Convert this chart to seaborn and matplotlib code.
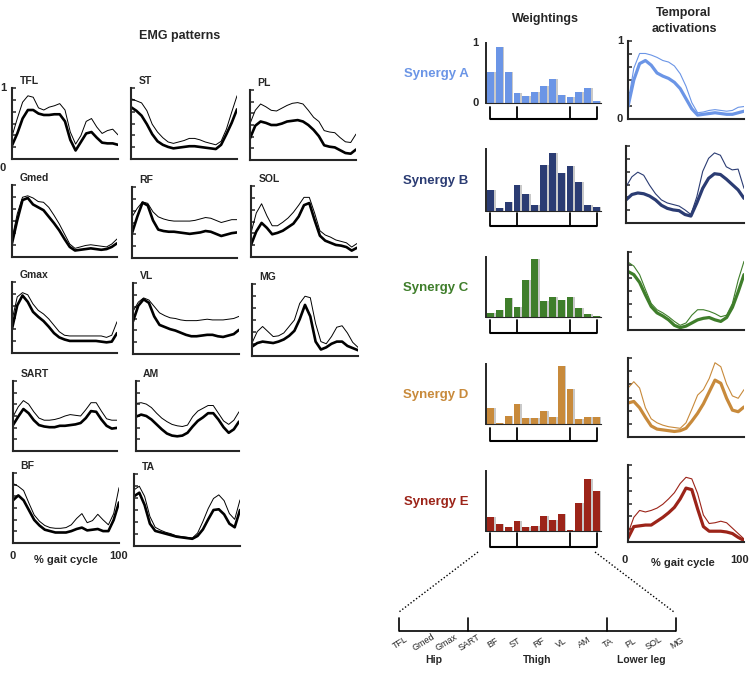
import numpy as np
import matplotlib
matplotlib.use("Agg")
import matplotlib.pyplot as plt
import matplotlib.transforms as mtransforms
from matplotlib.lines import Line2D
import seaborn as sns

sns.set_style("ticks")
plt.rcParams['font.family'] = ['Liberation Sans', 'DejaVu Sans']

# ---------------- data ----------------
pct = [0, 5, 10, 15, 20, 25, 30, 35, 40, 45, 50, 55, 60, 65, 70, 75, 80, 85, 90, 95, 100]
muscles = ["TFL", "Gmed", "Gmax", "SART", "BF", "ST", "RF", "VL", "AM", "TA", "PL", "SOL", "MG"]
groups = ["Hip", "Thigh", "Lower leg"]
group_starts = [0, 3, 9]          # index of first muscle in each group

TFL_mean = [0.19,0.36,0.57,0.69,0.69,0.64,0.62,0.62,0.63,0.63,0.53,0.27,0.12,0.24,0.36,0.38,0.30,0.23,0.22,0.22,0.20]
TFL_upper = [0.32,0.57,0.80,0.89,0.87,0.72,0.69,0.73,0.75,0.78,0.69,0.38,0.21,0.33,0.53,0.57,0.45,0.36,0.40,0.42,0.34]
ST_mean = [0.73,0.68,0.61,0.49,0.35,0.25,0.20,0.17,0.15,0.16,0.17,0.18,0.18,0.17,0.16,0.15,0.14,0.20,0.35,0.51,0.70]
ST_upper = [0.85,0.82,0.79,0.68,0.49,0.38,0.30,0.24,0.22,0.24,0.26,0.29,0.29,0.27,0.24,0.22,0.20,0.25,0.42,0.66,0.89]
PL_mean = [0.31,0.49,0.55,0.53,0.50,0.50,0.52,0.55,0.56,0.57,0.55,0.50,0.43,0.34,0.21,0.19,0.18,0.14,0.10,0.09,0.15]
PL_upper = [0.52,0.71,0.80,0.76,0.71,0.70,0.74,0.78,0.81,0.82,0.80,0.71,0.61,0.55,0.42,0.40,0.39,0.32,0.26,0.25,0.37]
Gmed_mean = [0.19,0.51,0.79,0.82,0.73,0.69,0.65,0.56,0.47,0.37,0.25,0.14,0.09,0.10,0.11,0.12,0.11,0.10,0.11,0.14,0.19]
Gmed_upper = [0.25,0.60,0.83,0.85,0.82,0.77,0.76,0.69,0.58,0.46,0.32,0.18,0.12,0.14,0.16,0.17,0.16,0.15,0.14,0.18,0.25]
RF_mean = [0.35,0.58,0.78,0.74,0.53,0.40,0.38,0.37,0.37,0.36,0.35,0.34,0.35,0.36,0.38,0.37,0.34,0.31,0.33,0.35,0.36]
RF_upper = [0.58,0.70,0.79,0.77,0.65,0.58,0.55,0.53,0.52,0.52,0.52,0.52,0.53,0.55,0.57,0.56,0.53,0.50,0.52,0.54,0.54]
SOL_mean = [0.17,0.36,0.48,0.41,0.32,0.34,0.37,0.42,0.47,0.57,0.73,0.76,0.52,0.30,0.23,0.20,0.17,0.16,0.14,0.09,0.13]
SOL_upper = [0.34,0.62,0.75,0.58,0.44,0.44,0.49,0.55,0.63,0.73,0.84,0.84,0.62,0.37,0.31,0.28,0.24,0.22,0.20,0.14,0.19]
Gmax_mean = [0.34,0.67,0.81,0.72,0.58,0.51,0.45,0.37,0.28,0.22,0.19,0.17,0.17,0.17,0.17,0.17,0.17,0.16,0.15,0.16,0.28]
Gmax_upper = [0.46,0.79,0.85,0.82,0.69,0.60,0.55,0.48,0.39,0.30,0.25,0.24,0.24,0.24,0.24,0.24,0.24,0.24,0.22,0.25,0.44]
VL_mean = [0.46,0.68,0.77,0.72,0.53,0.41,0.38,0.35,0.33,0.30,0.27,0.25,0.25,0.26,0.27,0.27,0.25,0.24,0.26,0.28,0.34]
VL_upper = [0.60,0.73,0.79,0.76,0.67,0.58,0.54,0.51,0.50,0.48,0.47,0.47,0.47,0.48,0.49,0.48,0.48,0.48,0.49,0.50,0.53]
MG_mean = [0.13,0.18,0.20,0.19,0.18,0.20,0.23,0.28,0.35,0.51,0.71,0.55,0.20,0.09,0.12,0.17,0.20,0.20,0.14,0.11,0.08]
MG_upper = [0.18,0.34,0.41,0.34,0.27,0.28,0.32,0.41,0.50,0.73,0.83,0.81,0.45,0.20,0.17,0.27,0.40,0.42,0.32,0.19,0.12]
SART_mean = [0.37,0.49,0.60,0.54,0.44,0.37,0.35,0.34,0.34,0.36,0.36,0.37,0.38,0.40,0.47,0.57,0.56,0.45,0.36,0.32,0.33]
SART_upper = [0.49,0.63,0.72,0.67,0.56,0.47,0.44,0.44,0.45,0.47,0.50,0.52,0.51,0.50,0.59,0.69,0.69,0.57,0.46,0.44,0.44]
AM_mean = [0.49,0.52,0.50,0.45,0.38,0.31,0.25,0.22,0.21,0.22,0.26,0.35,0.43,0.48,0.54,0.54,0.45,0.34,0.26,0.31,0.42]
AM_upper = [0.68,0.69,0.67,0.62,0.54,0.47,0.42,0.38,0.36,0.35,0.37,0.49,0.57,0.61,0.65,0.65,0.54,0.43,0.38,0.44,0.56]
BF_mean = [0.61,0.68,0.61,0.47,0.33,0.25,0.19,0.17,0.15,0.15,0.15,0.17,0.20,0.22,0.18,0.19,0.20,0.17,0.17,0.33,0.58]
BF_upper = [0.85,0.81,0.75,0.57,0.40,0.31,0.25,0.22,0.21,0.21,0.22,0.26,0.35,0.42,0.29,0.32,0.41,0.33,0.26,0.42,0.79]
TA_mean = [0.69,0.74,0.57,0.31,0.21,0.19,0.17,0.15,0.13,0.12,0.11,0.10,0.14,0.23,0.37,0.50,0.51,0.44,0.31,0.26,0.50]
TA_upper = [0.78,0.83,0.69,0.41,0.26,0.22,0.19,0.17,0.14,0.13,0.12,0.11,0.18,0.34,0.52,0.66,0.71,0.63,0.45,0.37,0.64]

syn_names = ["Synergy A", "Synergy B", "Synergy C", "Synergy D", "Synergy E"]
W_A = [0.52,0.93,0.51,0.17,0.12,0.19,0.28,0.40,0.14,0.10,0.19,0.25,0.04]
W_B = [0.34,0.05,0.14,0.42,0.28,0.09,0.75,0.93,0.62,0.72,0.46,0.09,0.07]
W_C = [0.07,0.12,0.31,0.17,0.62,0.96,0.26,0.34,0.28,0.33,0.15,0.05,0.02]
W_D = [0.26,0.02,0.13,0.33,0.10,0.10,0.21,0.12,0.96,0.58,0.08,0.12,0.11]
W_E = [0.24,0.12,0.06,0.17,0.06,0.08,0.25,0.18,0.28,0.01,0.47,0.87,0.66]

A_mean = [0.16,0.50,0.71,0.75,0.69,0.59,0.55,0.52,0.47,0.39,0.26,0.13,0.05,0.06,0.07,0.08,0.07,0.06,0.06,0.08,0.10]
A_upper = [0.20,0.65,0.84,0.84,0.82,0.79,0.75,0.73,0.68,0.58,0.42,0.21,0.08,0.09,0.11,0.12,0.11,0.10,0.11,0.15,0.16]
B_mean = [0.30,0.37,0.39,0.38,0.35,0.30,0.23,0.19,0.17,0.16,0.11,0.09,0.26,0.45,0.58,0.64,0.63,0.57,0.50,0.43,0.32]
B_upper = [0.47,0.60,0.66,0.62,0.49,0.38,0.30,0.26,0.24,0.22,0.17,0.11,0.34,0.67,0.84,0.91,0.88,0.73,0.69,0.70,0.45]
C_mean = [0.75,0.71,0.61,0.45,0.30,0.22,0.18,0.13,0.06,0.03,0.05,0.09,0.13,0.15,0.16,0.13,0.11,0.16,0.29,0.49,0.71]
C_upper = [0.87,0.82,0.71,0.52,0.34,0.26,0.22,0.17,0.11,0.06,0.09,0.19,0.26,0.26,0.24,0.21,0.17,0.19,0.34,0.64,0.88]
D_mean = [0.43,0.45,0.37,0.25,0.14,0.10,0.09,0.08,0.07,0.08,0.11,0.20,0.30,0.42,0.57,0.72,0.68,0.49,0.34,0.32,0.38]
D_upper = [0.62,0.70,0.62,0.37,0.23,0.18,0.15,0.13,0.12,0.11,0.18,0.35,0.53,0.60,0.74,0.94,0.89,0.67,0.52,0.49,0.60]
E_mean = [0.05,0.20,0.21,0.22,0.22,0.27,0.32,0.38,0.45,0.56,0.70,0.68,0.43,0.20,0.14,0.14,0.14,0.13,0.11,0.06,0.02]
E_upper = [0.11,0.32,0.41,0.39,0.41,0.44,0.49,0.56,0.64,0.76,0.84,0.82,0.63,0.35,0.24,0.25,0.27,0.25,0.18,0.11,0.04]

syn_colors = ["#6b95e6", "#2b3c73", "#3f7e2b", "#c88a3b", "#9c2419"]

# ---------------- layout helpers ----------------
W, H = 750, 674
fig = plt.figure(figsize=(W / 100, H / 100), dpi=100)


def px(l, t, r, b):
    return [l / W, 1 - b / H, (r - l) / W, (b - t) / H]


def style_line_axes(ax):
    ax.set_xlim(0, 100)
    ax.set_ylim(0, 1)
    sns.despine(ax=ax)
    for s in ("left", "bottom"):
        ax.spines[s].set_linewidth(1.5)
    ax.set_xticks([])
    ax.set_yticks(np.linspace(0, 1, 7))
    ax.set_yticklabels([])
    ax.tick_params(axis="y", direction="in", length=3, width=1.1)
    ax.set_xlabel("")
    ax.set_ylabel("")
    ax.patch.set_alpha(0)


def line_panel(rect, mean, upper, color, thin=0.7, thick=1.9):
    ax = fig.add_axes(px(*rect))
    sns.lineplot(x=pct, y=upper, ax=ax, color=color, lw=thin)
    sns.lineplot(x=pct, y=mean, ax=ax, color=color, lw=thick)
    style_line_axes(ax)
    return ax


# ---------------- EMG patterns ----------------
emg_panels = [
    ("TFL", TFL_mean, TFL_upper, (12, 88, 118, 159)),
    ("ST", ST_mean, ST_upper, (131, 88, 237, 159)),
    ("PL", PL_mean, PL_upper, (250, 90, 356, 160)),
    ("Gmed", Gmed_mean, Gmed_upper, (12, 185, 117, 257)),
    ("RF", RF_mean, RF_upper, (132, 187, 237, 258)),
    ("SOL", SOL_mean, SOL_upper, (251, 186, 357, 257)),
    ("Gmax", Gmax_mean, Gmax_upper, (12, 282, 117, 353)),
    ("VL", VL_mean, VL_upper, (133, 283, 239, 354)),
    ("MG", MG_mean, MG_upper, (252, 284, 358, 356)),
    ("SART", SART_mean, SART_upper, (13, 381, 117, 451)),
    ("AM", AM_mean, AM_upper, (136, 381, 239, 451)),
    ("BF", BF_mean, BF_upper, (13, 473, 119, 543)),
    ("TA", TA_mean, TA_upper, (134, 474, 240, 546)),
]
emg_axes = {}
for name, m, u, rect in emg_panels:
    ax = line_panel(rect, m, u, "black")
    ax.text(0.07, 1.03, name, transform=ax.transAxes, fontsize=7.5,
            fontweight="bold", ha="left", va="bottom")
    emg_axes[name] = ax

ax = emg_axes["TFL"]
ax.text(-0.085, 1.0, "1", transform=ax.transAxes, fontsize=8, fontweight="bold", ha="center", va="center")
ax.text(-0.085, -0.05, "0", transform=ax.transAxes, fontsize=8, fontweight="bold", ha="center", va="top")
ax = emg_axes["BF"]
ax.text(0.0, -0.18, "0", transform=ax.transAxes, fontsize=8, fontweight="bold", ha="center", va="center")
ax.text(1.0, -0.18, "100", transform=ax.transAxes, fontsize=8, fontweight="bold", ha="center", va="center")
ax.text(0.5, -0.24, "% gait cycle", transform=ax.transAxes, fontsize=8, fontweight="bold", ha="center", va="center")

fig.text(180 / W, 1 - 36 / H, "EMG patterns", fontsize=9, fontweight="bold", ha="center", va="center")
fig.text(545 / W, 1 - 19 / H, "Weightings", fontsize=9, fontweight="bold", ha="center", va="center")
fig.text(684 / W, 1 - 21 / H, "Temporal\nactivations", fontsize=9, fontweight="bold", ha="center",
         va="center", linespacing=1.35)

# ---------------- synergies ----------------
weights = [W_A, W_B, W_C, W_D, W_E]
acts = [(A_mean, A_upper), (B_mean, B_upper), (C_mean, C_upper), (D_mean, D_upper), (E_mean, E_upper)]
bar_rows = [(43, 103, 107, 119), (149, 211, 213, 226), (257, 317, 320, 333), (364, 424, 428, 441), (471, 531, 533, 547)]
act_rows = [(628, 41, 744, 119), (626, 146, 744, 223), (628, 252, 744, 330), (628, 358, 744, 437), (628, 465, 744, 542)]
xs = np.arange(len(muscles))
bracket_idx = group_starts + [len(muscles) - 1]

bar_axes = []
for k in range(5):
    top, bot, tick_top, brk = bar_rows[k]
    col = syn_colors[k]
    ax = fig.add_axes(px(486, top, 601, bot))
    ax.bar(xs + 0.2, weights[k], width=0.78, color="#c9c9c9", zorder=1, linewidth=0)
    sns.barplot(x=muscles, y=weights[k], ax=ax, color=col, saturation=1, width=0.78,
                linewidth=0, zorder=2)
    ax.set_xlim(-0.5, len(muscles) - 0.5)
    ax.set_ylim(0, 1)
    sns.despine(ax=ax)
    ax.spines["left"].set_linewidth(1.4)
    ax.spines["bottom"].set_linewidth(0.8)
    ax.set_xticks([])
    ax.set_yticks([])
    ax.set_xlabel("")
    ax.set_ylabel("")
    ax.patch.set_alpha(0)
    h = bot - top
    trans = mtransforms.blended_transform_factory(ax.transData, ax.transAxes)
    yb = -(brk - bot) / h
    yt = -(tick_top - bot) / h
    ax.plot([bracket_idx[0], bracket_idx[-1]], [yb, yb], color="black", lw=1.5,
            transform=trans, clip_on=False, solid_capstyle="butt")
    for i in bracket_idx:
        ax.plot([i, i], [yt, yb], color="black", lw=1.3, transform=trans, clip_on=False)
    fig.text(436 / W, 1 - ((top + bot) / 2 + 1) / H, syn_names[k], color=col, fontsize=9.5,
             fontweight="bold", ha="center", va="center")
    bar_axes.append(ax)

    m, u = acts[k]
    aax = line_panel(act_rows[k], m, u, col, thin=0.8, thick=2.3)
    if k == 0:
        aax.text(-0.07, 1.0, "1", transform=aax.transAxes, fontsize=8, fontweight="bold", ha="center", va="center")
        aax.text(-0.07, 0.0, "0", transform=aax.transAxes, fontsize=8, fontweight="bold", ha="center", va="center")
    if k == 4:
        aax.text(-0.03, -0.23, "0", transform=aax.transAxes, fontsize=8, fontweight="bold", ha="center", va="center")
        fig.text(749 / W, 1 - 560 / H, "100", fontsize=8, fontweight="bold", ha="right", va="center")
        aax.text(0.47, -0.27, "% gait cycle", transform=aax.transAxes, fontsize=8, fontweight="bold",
                 ha="center", va="center")

ax = bar_axes[0]
ax.text(-0.09, 1.0, "1", transform=ax.transAxes, fontsize=8, fontweight="bold", ha="center", va="center")
ax.text(-0.09, 0.0, "0", transform=ax.transAxes, fontsize=8, fontweight="bold", ha="center", va="center")

# ---------------- muscle key ----------------
kx0, kx1, ky_tick, ky_line = 399, 676, 618, 631
kax = fig.add_axes(px(kx0, ky_tick, kx1, ky_line))
kax.set_xlim(0, len(muscles) - 1)
kax.set_ylim(0, 1)
kax.axis("off")
kax.plot([0, len(muscles) - 1], [0, 0], color="black", lw=1.2, clip_on=False, solid_capstyle="butt")
for i in bracket_idx:
    kax.plot([i, i], [0, 1], color="black", lw=1.2, clip_on=False)
for i, mname in enumerate(muscles):
    kax.text(i + 0.05, -0.9, mname, fontsize=6.5, ha="center", va="center", rotation=32)
bounds = group_starts + [len(muscles) - 1]
for g, gname in enumerate(groups):
    kax.text((bounds[g] + bounds[g + 1]) / 2, -2.2, gname, fontsize=7.5, fontweight="bold",
             ha="center", va="center")

# dotted zoom lines
for (x0, y0, x1, y1) in [(478, 552, 399, 612), (595, 552, 674, 612)]:
    fig.add_artist(Line2D([x0 / W, x1 / W], [1 - y0 / H, 1 - y1 / H], transform=fig.transFigure,
                          color="black", lw=1.0, linestyle=(0, (1, 1.5))))

fig.savefig("out.png", dpi=100)
